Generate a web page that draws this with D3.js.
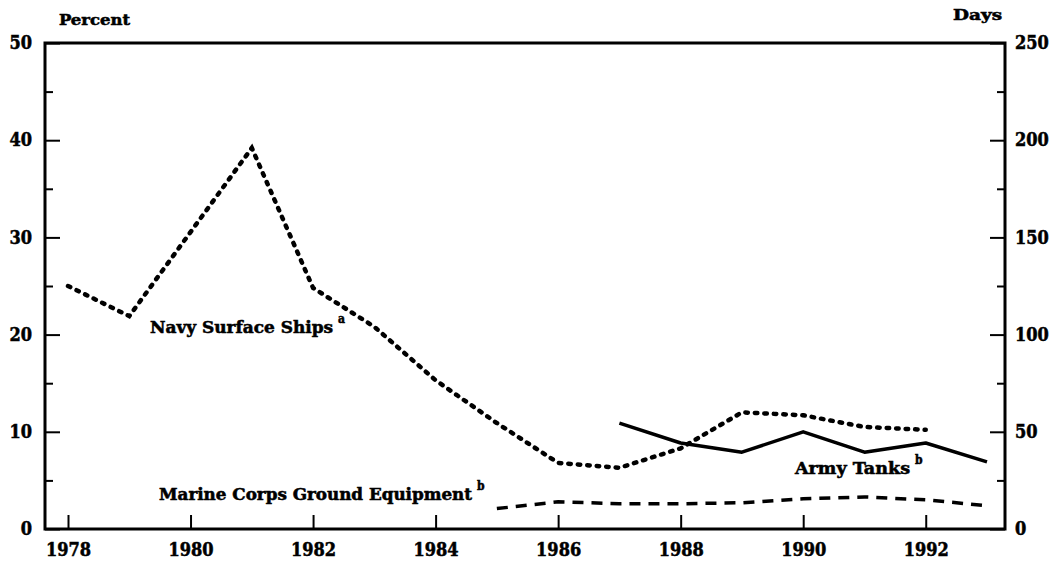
<!DOCTYPE html>
<html lang="en">
  <head>
    <meta charset="utf-8">
    <title>Percent and days</title>
    <style>
    body {
        margin: 0;
        background: #fff;
    }
    text {
        font-family: "DejaVu Serif Condensed", "DejaVu Serif", serif;
        font-weight: bold;
        fill: #000;
        stroke: #000;
        stroke-width: 0.5;
    }
    .tick text {
        font-size: 18px;
    }
    .series {
        fill: none;
        stroke: #000;
    }
    </style>
  </head>
  <body>
    <div id="chart"></div>

    <script src="https://d3js.org/d3.v7.min.js"></script>
    <script>
    (function(d3) {
        'use strict';

        // values (percent scale)
        var navyYears = [1978, 1979, 1981, 1982, 1983, 1984, 1985, 1986, 1987, 1988, 1989, 1990, 1991, 1992];
        var navyValues = [25.0, 21.9, 39.2, 24.8, 20.8, 15.3, 10.9, 6.8, 6.3, 8.3, 12.0, 11.7, 10.5, 10.2];

        var tankYears = [1987, 1988, 1989, 1990, 1991, 1992, 1993];
        var tankValues = [10.9, 8.85, 7.9, 10.0, 7.9, 8.85, 6.9];

        var marineYears = [1985, 1986, 1987, 1988, 1989, 1990, 1991, 1992, 1993];
        var marineValues = [2.1, 2.8, 2.6, 2.6, 2.7, 3.1, 3.3, 3.0, 2.4];

        var yearTicks = [1978, 1980, 1982, 1984, 1986, 1988, 1990, 1992];
        var percentTicks = [0, 10, 20, 30, 40, 50];
        var percentMinor = [5, 15, 25, 35, 45];
        var dayTicks = [0, 50, 100, 150, 200, 250];
        var dayMinor = [25, 75, 125, 175, 225];

        var width = 1060;
        var height = 567;
        var left = 45, right = 1005, top = 43, bottom = 529;

        var svg = d3.select('#chart')
            .append('svg')
            .attr('width', width)
            .attr('height', height);

        var x = d3.scaleLinear().domain([1978, 1993]).range([68, 987]);
        var y = d3.scaleLinear().domain([0, 50]).range([bottom, top]);
        var yDays = d3.scaleLinear().domain([0, 250]).range([bottom, top]);

        // left axis, ticks pointing inward
        svg.append('g')
            .attr('transform', 'translate(' + left + ',0)')
            .call(d3.axisLeft(y).tickValues(percentTicks).tickSize(-15).tickPadding(13))
            .call(function(g) { g.select('.domain').remove(); });
        svg.append('g')
            .attr('transform', 'translate(' + left + ',0)')
            .call(d3.axisLeft(y).tickValues(percentMinor).tickSize(-8).tickFormat(''))
            .call(function(g) { g.select('.domain').remove(); });

        // right axis
        svg.append('g')
            .attr('transform', 'translate(' + right + ',0)')
            .call(d3.axisRight(yDays).tickValues(dayTicks).tickSize(-15).tickPadding(10))
            .call(function(g) { g.select('.domain').remove(); });
        svg.append('g')
            .attr('transform', 'translate(' + right + ',0)')
            .call(d3.axisRight(yDays).tickValues(dayMinor).tickSize(-8).tickFormat(''))
            .call(function(g) { g.select('.domain').remove(); });

        // bottom axis
        svg.append('g')
            .attr('transform', 'translate(0,' + bottom + ')')
            .call(d3.axisBottom(x).tickValues(yearTicks).tickSize(-14).tickPadding(14).tickFormat(d3.format('d')))
            .call(function(g) { g.select('.domain').remove(); });

        svg.selectAll('.tick line')
            .attr('stroke', '#000')
            .attr('stroke-width', 2);

        // frame
        svg.append('rect')
            .attr('x', left)
            .attr('y', top)
            .attr('width', right - left)
            .attr('height', bottom - top)
            .attr('fill', 'none')
            .attr('stroke', '#000')
            .attr('stroke-width', 3);

        var line = d3.line()
            .x(function(d) { return x(d[0]); })
            .y(function(d) { return y(d[1]); });

        svg.append('path')
            .attr('class', 'series')
            .attr('d', line(d3.zip(navyYears, navyValues)))
            .attr('stroke-width', 4.5)
            .attr('stroke-linecap', 'round')
            .attr('stroke-dasharray', '2.5,7');

        svg.append('path')
            .attr('class', 'series')
            .attr('d', line(d3.zip(tankYears, tankValues)))
            .attr('stroke-width', 3.5)
            .attr('stroke-linejoin', 'round');

        svg.append('path')
            .attr('class', 'series')
            .attr('d', line(d3.zip(marineYears, marineValues)))
            .attr('stroke-width', 3.5)
            .attr('stroke-dasharray', '11,8');

        // titles
        svg.append('text')
            .attr('x', 59)
            .attr('y', 25)
            .attr('font-size', 15)
            .attr('textLength', 71)
            .attr('lengthAdjust', 'spacingAndGlyphs')
            .text('Percent');

        svg.append('text')
            .attr('x', 953)
            .attr('y', 20)
            .attr('font-size', 15)
            .attr('textLength', 49)
            .attr('lengthAdjust', 'spacingAndGlyphs')
            .text('Days');

        // series labels
        var labels = [
            {text: 'Navy Surface Ships', sup: 'a', x: 150, y: 333, w: 183},
            {text: 'Marine Corps Ground Equipment', sup: 'b', x: 159, y: 500, w: 313},
            {text: 'Army Tanks', sup: 'b', x: 795, y: 474, w: 115}
        ];

        labels.forEach(function(l) {
            svg.append('text')
                .attr('x', l.x)
                .attr('y', l.y)
                .attr('font-size', 16)
                .attr('textLength', l.w)
                .attr('lengthAdjust', 'spacingAndGlyphs')
                .text(l.text);
            svg.append('text')
                .attr('x', l.x + l.w + 5)
                .attr('y', l.y - 10)
                .attr('font-size', 12)
                .text(l.sup);
        });

    })(window.d3);
    </script>
  </body>
</html>
